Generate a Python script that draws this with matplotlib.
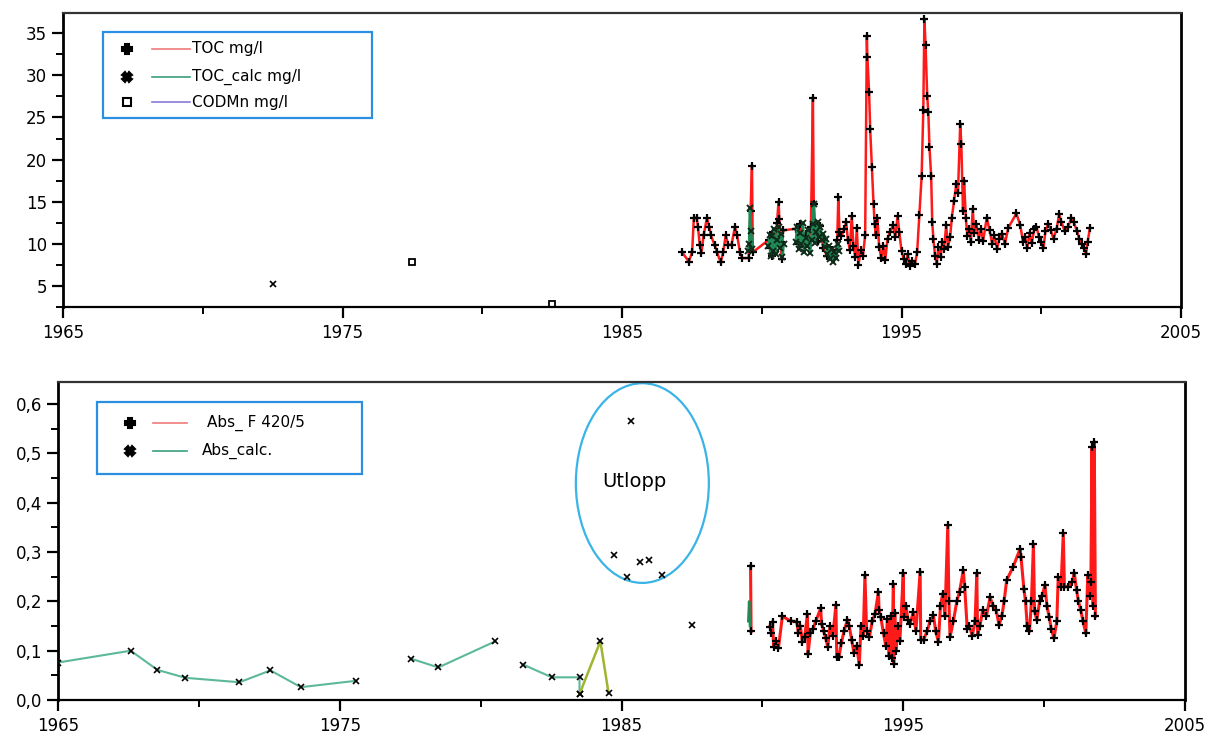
import numpy as np
import matplotlib
matplotlib.use("Agg")
import matplotlib.pyplot as plt
from matplotlib.lines import Line2D
from matplotlib.patches import Rectangle, Ellipse
from matplotlib.ticker import MultipleLocator, FuncFormatter

# ---------------- data: top panel ----------------
toc_year = [1987.15, 1987.39, 1987.51, 1987.57, 1987.67, 1987.72, 1987.78, 1987.84, 1987.92, 1988.04,
            1988.12, 1988.18, 1988.31, 1988.40, 1988.53, 1988.62, 1988.71, 1988.80, 1988.92, 1989.04,
            1989.12, 1989.22, 1989.30, 1989.53, 1989.60, 1989.65, 1989.68,
            1990.26, 1990.30, 1990.36, 1990.42, 1990.48, 1990.55, 1990.60, 1990.63, 1990.68, 1990.72, 1990.76,
            1991.24, 1991.30, 1991.38, 1991.45, 1991.52, 1991.60, 1991.68, 1991.76, 1991.83, 1991.86,
            1991.92, 1992.00, 1992.08, 1992.20, 1992.35, 1992.50, 1992.60, 1992.70, 1992.74, 1992.78,
            1992.85, 1992.95, 1993.02, 1993.08, 1993.15, 1993.22, 1993.28, 1993.35, 1993.40, 1993.46,
            1993.55, 1993.62, 1993.70, 1993.76, 1993.78, 1993.84, 1993.88, 1993.94, 1994.00, 1994.04,
            1994.08, 1994.14, 1994.20, 1994.28, 1994.35, 1994.42, 1994.50, 1994.58, 1994.70, 1994.78,
            1994.86, 1994.92, 1995.00, 1995.08, 1995.16, 1995.22, 1995.30, 1995.38, 1995.48, 1995.56,
            1995.64, 1995.72, 1995.78, 1995.82, 1995.86, 1995.92, 1995.96, 1996.00, 1996.06, 1996.10,
            1996.14, 1996.20, 1996.26, 1996.32, 1996.40, 1996.46, 1996.52, 1996.60, 1996.66, 1996.74,
            1996.80, 1996.88, 1996.96, 1997.02, 1997.10, 1997.14, 1997.20, 1997.24, 1997.30, 1997.36,
            1997.42, 1997.48, 1997.55, 1997.60, 1997.68, 1997.76, 1997.84, 1997.92, 1998.05, 1998.15,
            1998.25, 1998.32, 1998.42, 1998.50, 1998.60, 1998.70, 1998.82, 1999.11, 1999.25, 1999.35,
            1999.42, 1999.50, 1999.58, 1999.66, 1999.75, 1999.83, 1999.92, 2000.00, 2000.08, 2000.15,
            2000.25, 2000.34, 2000.44, 2000.55, 2000.64, 2000.72, 2000.84, 2000.96, 2001.08, 2001.16,
            2001.28, 2001.36, 2001.45, 2001.52, 2001.60, 2001.66, 2001.74]
toc_val = [9.0, 7.9, 9.0, 13.1, 13.1, 12.0, 9.9, 8.9, 11.0, 13.1,
           12.0, 11.0, 9.9, 9.0, 7.8, 9.0, 11.0, 9.9, 9.9, 12.0,
           11.0, 9.0, 8.3, 8.3, 13.9, 19.2, 9.0,
           10.5, 9.5, 8.6, 11.4, 9.2, 12.5, 15.0, 13.0, 10.2, 8.2, 11.6,
           11.8, 10.0, 12.3, 10.9, 9.6, 11.2, 10.4, 12.0, 27.3, 14.7,
           11.5, 10.3, 12.1, 9.5, 8.5, 9.3, 8.2, 10.4, 15.6, 11.4,
           10.9, 11.7, 12.6, 10.5, 9.3, 13.3, 9.8, 8.4, 11.9, 7.5,
           9.3, 8.6, 11.0, 34.7, 32.2, 28.0, 23.6, 19.1, 14.7, 12.4,
           11.0, 13.1, 9.6, 8.3, 9.8, 8.1, 10.6, 11.4, 12.2, 10.8,
           13.3, 11.4, 9.2, 8.2, 7.6, 8.8, 7.4, 8.0, 7.6, 9.0,
           13.4, 18.0, 25.9, 36.7, 33.6, 27.6, 25.6, 21.5, 18.1, 12.6,
           10.6, 8.6, 7.6, 9.6, 8.4, 10.2, 9.4, 12.2, 9.6, 10.8,
           13.1, 15.1, 17.1, 16.0, 24.2, 21.9, 13.9, 17.5, 13.1, 10.9,
           11.8, 10.2, 14.1, 11.3, 12.4, 10.5, 11.8, 10.3, 13.1, 11.6,
           10.0, 11.0, 9.4, 10.6, 11.2, 10.0, 11.9, 13.6, 12.2, 10.2,
           10.8, 9.5, 11.3, 10.1, 11.7, 12.0, 10.8, 10.2, 9.5, 11.5,
           12.4, 11.6, 10.6, 11.8, 13.5, 12.6, 11.5, 12.0, 13.1, 12.6,
           11.5, 10.6, 10.0, 9.5, 8.8, 10.2, 11.9]

calc_old_year = [1972.5]
calc_old_val = [5.2]
calc_a_year = [1989.50, 1989.55, 1989.58, 1989.62, 1989.66]
calc_a_val = [9.2, 10.0, 14.3, 11.5, 9.4]
calc_b_year = [1990.24, 1990.28, 1990.32, 1990.36, 1990.40, 1990.45, 1990.50, 1990.55, 1990.60,
               1990.65, 1990.70, 1990.74, 1990.78]
calc_b_val = [9.8, 11.0, 8.6, 10.9, 9.2, 11.8, 8.8, 10.5, 12.0, 9.5, 11.2, 8.4, 10.0]
calc_c_year = [1991.22, 1991.27, 1991.32, 1991.37, 1991.42, 1991.47, 1991.52, 1991.57, 1991.62,
               1991.67, 1991.72, 1991.78, 1991.82, 1991.86, 1991.90, 1991.95, 1992.00, 1992.05,
               1992.10, 1992.15, 1992.20, 1992.25, 1992.30, 1992.35, 1992.40, 1992.45, 1992.50,
               1992.55, 1992.60, 1992.66, 1992.72, 1992.78]
calc_c_val = [10.2, 12.0, 9.4, 11.3, 10.0, 12.5, 9.0, 10.7, 9.8, 11.6, 8.9, 10.5, 12.4, 14.7, 10.1,
              11.4, 12.6, 10.8, 12.0, 10.4, 11.2, 9.6, 10.6, 8.8, 9.8, 8.2, 9.4, 7.9, 9.0, 8.3,
              10.0, 9.2]

codmn_year = [1977.5, 1982.5]
codmn_val = [7.9, 2.8]

# ---------------- data: bottom panel ----------------
abs_year = [1989.58, 1989.60, 1990.27, 1990.32, 1990.36, 1990.40, 1990.48, 1990.57, 1990.71, 1991.00,
            1991.22, 1991.28, 1991.35, 1991.42, 1991.50, 1991.60, 1991.62, 1991.70, 1991.80, 1991.90,
            1992.07, 1992.10, 1992.18, 1992.25, 1992.32, 1992.40, 1992.50, 1992.61, 1992.64, 1992.72,
            1992.80, 1992.90, 1993.02, 1993.08, 1993.17, 1993.25, 1993.35, 1993.44, 1993.50, 1993.58,
            1993.64, 1993.70, 1993.80, 1993.90, 1994.00, 1994.12, 1994.14, 1994.20, 1994.30, 1994.38,
            1994.44, 1994.50, 1994.55, 1994.60, 1994.65, 1994.66, 1994.70, 1994.74, 1994.80, 1994.88,
            1995.00, 1995.02, 1995.10, 1995.17, 1995.25, 1995.35, 1995.45, 1995.60, 1995.62, 1995.72,
            1995.85, 1995.95, 1996.07, 1996.15, 1996.25, 1996.32, 1996.40, 1996.48, 1996.58, 1996.62,
            1996.66, 1996.78, 1996.90, 1997.00, 1997.13, 1997.18, 1997.27, 1997.35, 1997.45, 1997.55,
            1997.61, 1997.64, 1997.72, 1997.82, 1997.95, 1998.08, 1998.20, 1998.30, 1998.40, 1998.50,
            1998.58, 1998.67, 1998.90, 1999.15, 1999.18, 1999.28, 1999.34, 1999.40, 1999.48, 1999.55,
            1999.62, 1999.66, 1999.74, 1999.84, 1999.92, 2000.03, 2000.10, 2000.18, 2000.25, 2000.35,
            2000.45, 2000.50, 2000.60, 2000.68, 2000.72, 2000.85, 2001.00, 2001.07, 2001.15, 2001.22,
            2001.30, 2001.38, 2001.48, 2001.55, 2001.62, 2001.66, 2001.70, 2001.74, 2001.78, 2001.82]
abs_val = [0.272, 0.139, 0.149, 0.135, 0.159, 0.108, 0.120, 0.105, 0.170, 0.160,
           0.159, 0.135, 0.150, 0.118, 0.128, 0.174, 0.093, 0.135, 0.145, 0.160,
           0.186, 0.155, 0.139, 0.125, 0.108, 0.150, 0.130, 0.193, 0.088, 0.088,
           0.115, 0.140, 0.163, 0.150, 0.122, 0.095, 0.110, 0.071, 0.150, 0.130,
           0.253, 0.140, 0.128, 0.160, 0.175, 0.220, 0.182, 0.169, 0.135, 0.110,
           0.165, 0.090, 0.170, 0.085, 0.235, 0.073, 0.176, 0.100, 0.150, 0.120,
           0.257, 0.169, 0.190, 0.162, 0.155, 0.178, 0.140, 0.260, 0.122, 0.122,
           0.140, 0.160, 0.172, 0.140, 0.118, 0.190, 0.216, 0.170, 0.354, 0.200,
           0.128, 0.160, 0.200, 0.220, 0.263, 0.230, 0.145, 0.150, 0.130, 0.160,
           0.257, 0.132, 0.150, 0.182, 0.170, 0.208, 0.190, 0.182, 0.152, 0.170,
           0.200, 0.243, 0.270, 0.307, 0.290, 0.226, 0.200, 0.150, 0.139, 0.200,
           0.316, 0.180, 0.162, 0.200, 0.210, 0.233, 0.190, 0.169, 0.145, 0.125,
           0.160, 0.249, 0.230, 0.338, 0.230, 0.230, 0.240, 0.258, 0.223, 0.200,
           0.182, 0.160, 0.135, 0.253, 0.210, 0.240, 0.513, 0.190, 0.524, 0.170]

abs_calc_a_year = [1965.0, 1967.58, 1968.53, 1969.52, 1971.44, 1972.54, 1973.62, 1975.59]
abs_calc_a_val = [0.076, 0.100, 0.061, 0.045, 0.036, 0.060, 0.026, 0.039]
abs_calc_b_year = [1977.52, 1978.50, 1980.52]
abs_calc_b_val = [0.084, 0.066, 0.119]
abs_calc_c_year = [1981.50, 1982.53, 1983.51, 1983.51]
abs_calc_c_val = [0.072, 0.046, 0.046, 0.012]
abs_calc_d_year = [1983.51, 1984.25, 1984.54]
abs_calc_d_val = [0.012, 0.119, 0.014]
abs_calc_e_year = [1989.50, 1989.53, 1989.56]
abs_calc_e_val = [0.160, 0.200, 0.150]
utlopp_year = [1984.73, 1985.19, 1985.33, 1985.65, 1985.97, 1986.43, 1987.50]
utlopp_val = [0.294, 0.249, 0.565, 0.279, 0.283, 0.253, 0.152]

top_yticks = [5, 10, 15, 20, 25, 30, 35]
bot_yticks = [0.0, 0.1, 0.2, 0.3, 0.4, 0.5, 0.6]
xticks = [1965, 1975, 1985, 1995, 2005]

# ---------------- figure ----------------
W, H = 1208, 733
fig = plt.figure(figsize=(W / 100, H / 100), dpi=100)
fig.patch.set_facecolor("white")
plt.rcParams['font.family'] = ['DejaVu Sans']


def fx(x):
    return x / W


def fy(y):
    return 1 - y / H


ax1 = fig.add_axes([fx(63), fy(307), fx(1181) - fx(63), fy(13) - fy(307)])
ax2 = fig.add_axes([fx(58), fy(700), fx(1185) - fx(58), fy(382) - fy(700)])

RED = "#ff1a1a"
GREEN_D = "#1f8a55"
GREEN_L = "#5cb89a"
OLIVE = "#9db530"

for ax in (ax1, ax2):
    ax.set_xlim(1965, 2005)
    for s in ax.spines.values():
        s.set_color("black")
    ax.spines['left'].set_linewidth(2.0)
    ax.spines['right'].set_linewidth(2.0)
    ax.spines['bottom'].set_linewidth(1.6)
    ax.spines['top'].set_linewidth(1.6)
    ax.spines['top'].set_color("#333333")
    ax.set_xticks(xticks)
    ax.xaxis.set_minor_locator(MultipleLocator(5))
    ax.tick_params(axis='both', which='major', direction='out', length=8, width=1.6,
                   labelsize=12, colors='black')
    ax.tick_params(axis='both', which='minor', direction='out', length=5, width=1.4)
    ax.tick_params(axis='x', which='major', pad=4)

# top panel
ax1.set_ylim(2.5, 37.4)
ax1.set_yticks(top_yticks)
ax1.yaxis.set_minor_locator(MultipleLocator(2.5))

ax1.plot(toc_year, toc_val, color=RED, lw=1.8, marker='+', ms=6, mew=1.6, mec='black', zorder=3)
for yy, vv in ((calc_a_year, calc_a_val), (calc_b_year, calc_b_val), (calc_c_year, calc_c_val)):
    ax1.plot(yy, vv, color=GREEN_D, lw=2.0, marker='x', ms=4, mew=1.4, mec='#102a1a', zorder=4)
ax1.plot(calc_old_year, calc_old_val, ls='none', marker='x', ms=5, mew=1.2, color='black')
ax1.plot(codmn_year, codmn_val, ls='none', marker='s', ms=5, mew=1.3, mfc='white', mec='black',
         clip_on=False)

# bottom panel
ax2.set_ylim(0, 0.645)
ax2.set_yticks(bot_yticks)
ax2.yaxis.set_minor_locator(MultipleLocator(0.05))
ax2.yaxis.set_major_formatter(FuncFormatter(lambda v, p: f"{v:.1f}".replace('.', ',')))

ax2.plot(abs_year[:2], abs_val[:2], color=RED, lw=2.2, marker='+', ms=6, mew=1.6, mec='black', zorder=3)
ax2.plot(abs_year[2:], abs_val[2:], color=RED, lw=2.2, marker='+', ms=6, mew=1.6, mec='black', zorder=3)
for yy, vv in ((abs_calc_a_year, abs_calc_a_val), (abs_calc_b_year, abs_calc_b_val),
               (abs_calc_c_year, abs_calc_c_val)):
    ax2.plot(yy, vv, color=GREEN_L, lw=1.5, marker='x', ms=4, mew=1.2, mec='black', zorder=3)
ax2.plot(abs_calc_d_year, abs_calc_d_val, color=OLIVE, lw=1.8, marker='x', ms=4, mew=1.2,
         mec='black', zorder=3)
ax2.plot(abs_calc_e_year, abs_calc_e_val, color=GREEN_D, lw=1.8, zorder=4)
ax2.plot(utlopp_year, utlopp_val, ls='none', marker='x', ms=4, mew=1.2, color='black')

ell = Ellipse((1985.74, 0.44), 4.72, 0.405, fill=False, ec="#3ab4e6", lw=1.6, clip_on=False)
ax2.add_patch(ell)
ax2.text(1985.45, 0.443, "Utlopp", fontsize=14, ha='center', va='center', color='black')

# legends drawn manually in figure coordinates
LEG_BLUE = "#2a8fe0"


def legend_box(x0, y0, x1, y1):
    fig.add_artist(Rectangle((fx(x0), fy(y1)), fx(x1) - fx(x0), fy(y0) - fy(y1),
                             transform=fig.transFigure, fill=True, fc='white',
                             ec=LEG_BLUE, lw=1.6, zorder=10))


def legend_entry(y, mx, lx0, lx1, tx, marker, lcolor, label, mfc='black', ms=7):
    fig.add_artist(Line2D([fx(mx)], [fy(y)], transform=fig.transFigure, marker=marker, ms=ms,
                          mfc=mfc, mec='black', mew=1.5, ls='none', zorder=11))
    fig.add_artist(Line2D([fx(lx0), fx(lx1)], [fy(y), fy(y)], transform=fig.transFigure,
                          color=lcolor, lw=1.2, zorder=11))
    fig.text(fx(tx), fy(y), label, fontsize=11, va='center', ha='left', zorder=12)


legend_box(103, 32, 372, 118)
legend_entry(49, 127, 152, 190, 192, 'P', "#f07a7a", "TOC mg/l", ms=7)
legend_entry(77, 127, 152, 190, 192, 'X', "#3aa07a", "TOC_calc mg/l", ms=7)
legend_entry(102, 127, 152, 190, 192, 's', "#8a78d8", "CODMn mg/l", mfc='white', ms=6)

legend_box(97, 402, 362, 474)
legend_entry(423, 130, 153, 187, 207, 'P', "#f07a7a", "Abs_ F 420/5", ms=7)
legend_entry(451, 130, 153, 187, 202, 'X', "#3aa07a", "Abs_calc.", ms=7)

fig.savefig("out.png", dpi=100, facecolor='white')
